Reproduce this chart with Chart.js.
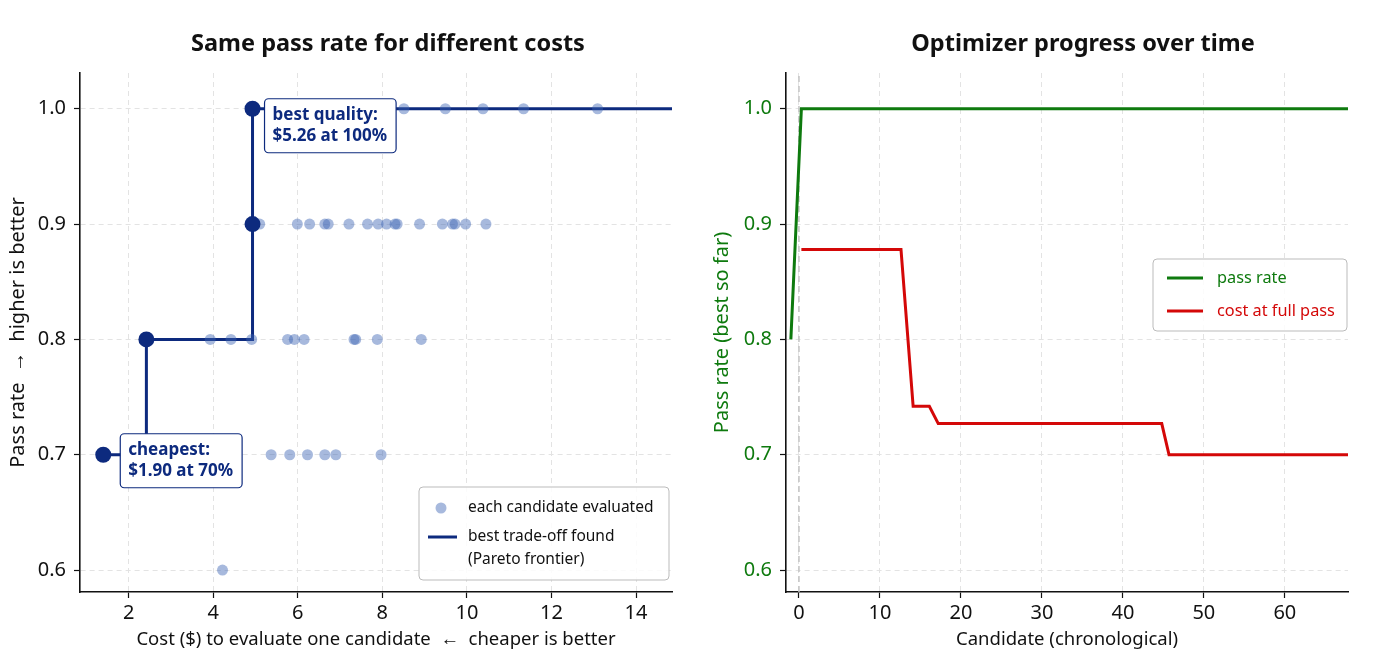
<!DOCTYPE html>
<html>
<head>
<meta charset="utf-8">
<script src="https://cdn.jsdelivr.net/npm/chart.js@4.4.1/dist/chart.umd.min.js"></script>
<style>
  body { margin: 0; background: #fff; }
  #wrap { position: relative; width: 1400px; height: 672px; overflow: hidden; }
  canvas { position: absolute; top: 0; }
  .ttl { position: absolute; top: 27px; width: 400px; text-align: center;
         font: bold 23.5px "Noto Sans"; line-height: 30px; color: #111; }
</style>
</head>
<body>
<div id="wrap">
  <canvas id="left" width="700" height="672" style="left:0"></canvas>
  <canvas id="right" width="700" height="672" style="left:700px"></canvas>
  <div class="ttl" style="left:188px">Same pass rate for different costs</div>
  <div class="ttl" style="left:883px">Optimizer progress over time</div>
</div>
<script>
// left: every candidate (cost, pass rate)
const candCost = [8.51, 9.49, 10.38, 11.34, 13.09,
  5.10, 5.99, 6.28, 6.64, 6.72, 7.21, 7.65, 7.90, 8.10, 8.30, 8.35, 8.88, 9.42, 9.66, 9.72, 9.97, 10.45,
  3.93, 4.42, 4.91, 5.76, 5.92, 6.15, 7.33, 7.37, 7.88, 8.92,
  5.37, 5.81, 6.23, 6.64, 6.90, 7.97,
  4.22];
const candPass = [1.0, 1.0, 1.0, 1.0, 1.0,
  0.9, 0.9, 0.9, 0.9, 0.9, 0.9, 0.9, 0.9, 0.9, 0.9, 0.9, 0.9, 0.9, 0.9, 0.9, 0.9, 0.9,
  0.8, 0.8, 0.8, 0.8, 0.8, 0.8, 0.8, 0.8, 0.8, 0.8,
  0.7, 0.7, 0.7, 0.7, 0.7, 0.7,
  0.6];

// pareto frontier
const frontCost = [1.40, 2.42, 4.93, 4.93];
const frontPass = [0.7, 0.8, 0.9, 1.0];
const cheapNote = ['cheapest:', '$1.90 at 70%'];
const bestNote = ['best quality:', '$5.26 at 100%'];

// right: best so far per candidate
const passX = [-1, 0.3, 67.8];
const passBest = [0.8, 1.0, 1.0];
const costX = [0.3, 12.6, 14.1, 16.1, 17.2, 44.8, 45.7, 67.8];
const costLevel = [0.878, 0.878, 0.742, 0.742, 0.727, 0.727, 0.700, 0.700];

const xTicksLeft = [2, 4, 6, 8, 10, 12, 14];
const xTicksRight = [0, 10, 20, 30, 40, 50, 60];
const yTicks = [0.6, 0.7, 0.8, 0.9, 1.0];

const FONT = '"Noto Sans"';
const NAVY = '#0d2a7e';
const GREEN = '#0e7a0e';
const RED = '#d40808';
const Y_MIN = 0.581, Y_MAX = 1.031;
const XL_MIN = 0.85, XL_MAX = 14.85;
const XR_MIN = -1.6, XR_MAX = 67.8;

const pts = (xs, ys) => xs.map((v, i) => ({ x: v, y: ys[i] }));

function axis(min, max, tickVals, fmt, title, color, size, titlePad) {
  const horiz = size === 80 && titlePad > 15;
  return {
    type: 'linear', min: min, max: max,
    afterBuildTicks: s => { s.ticks = tickVals.map(v => ({ value: v })); },
    afterFit: s => { if (s.isHorizontal()) s.height = size; else s.width = size; },
    ticks: { color: color, font: { family: FONT, size: 20 }, padding: horiz ? 3 : 8, callback: fmt },
    grid: { color: '#e3e3e3', lineWidth: 1, tickColor: '#111', tickLength: 6, tickWidth: 1.2 },
    border: { display: true, color: '#111', width: 1.6, dash: [5, 4] },
    title: { display: true, text: title, color: color, font: { family: FONT, size: horiz ? 18.5 : 20 },
      padding: horiz ? { top: 2, bottom: titlePad } : { top: titlePad, bottom: 2 } }
  };
}

function noteBox(ctx, left, top, lines) {
  ctx.font = 'bold 17px ' + FONT;
  const w = Math.max(...lines.map(t => ctx.measureText(t).width)) + 17;
  ctx.beginPath();
  ctx.roundRect(left, top, w, 54, 4);
  ctx.fillStyle = '#fff';
  ctx.fill();
  ctx.lineWidth = 1.2;
  ctx.strokeStyle = NAVY;
  ctx.stroke();
  ctx.fillStyle = NAVY;
  ctx.textAlign = 'left';
  ctx.textBaseline = 'middle';
  lines.forEach((t, i) => ctx.fillText(t, left + 8, top + 16 + i * 21));
}

function legendBox(ctx, left, top, w, h) {
  ctx.beginPath();
  ctx.roundRect(left, top, w, h, 4);
  ctx.fillStyle = 'rgba(255,255,255,0.85)';
  ctx.fill();
  ctx.lineWidth = 1;
  ctx.strokeStyle = '#bbb';
  ctx.stroke();
}

const leftNotes = {
  id: 'leftNotes',
  afterDatasetsDraw(chart) {
    const { ctx, chartArea: a, scales: { x, y } } = chart;
    ctx.save();
    const b = frontCost.length - 1;
    noteBox(ctx, x.getPixelForValue(frontCost[b]) + 12, y.getPixelForValue(frontPass[b]) - 10, bestNote);
    noteBox(ctx, x.getPixelForValue(frontCost[0]) + 17, y.getPixelForValue(frontPass[0]) - 21, cheapNote);

    const L = a.right - 253, T = a.bottom - 105;
    legendBox(ctx, L, T, 250, 93);
    ctx.beginPath();
    ctx.arc(L + 22, T + 21, 5.5, 0, Math.PI * 2);
    ctx.fillStyle = 'rgba(60,100,180,0.45)';
    ctx.fill();
    ctx.beginPath();
    ctx.moveTo(L + 9, T + 50);
    ctx.lineTo(L + 38, T + 50);
    ctx.lineWidth = 3;
    ctx.strokeStyle = NAVY;
    ctx.stroke();
    ctx.font = '15.5px ' + FONT;
    ctx.fillStyle = '#111';
    ctx.textAlign = 'left';
    ctx.textBaseline = 'middle';
    ctx.fillText('each candidate evaluated', L + 49, T + 21);
    ctx.fillText('best trade-off found', L + 49, T + 50);
    ctx.fillText('(Pareto frontier)', L + 49, T + 73);
    ctx.restore();
  }
};

const rightNotes = {
  id: 'rightNotes',
  afterDatasetsDraw(chart) {
    const { ctx, chartArea: a } = chart;
    ctx.save();
    const L = a.right - 195, T = a.top + 186;
    legendBox(ctx, L, T, 194, 72);
    [[GREEN, 'pass rate', 19], [RED, 'cost at full pass', 52]].forEach(([c, t, dy]) => {
      ctx.beginPath();
      ctx.moveTo(L + 14, T + dy);
      ctx.lineTo(L + 50, T + dy);
      ctx.lineWidth = 3;
      ctx.strokeStyle = c;
      ctx.stroke();
      ctx.font = '16.3px ' + FONT;
      ctx.fillStyle = c;
      ctx.textAlign = 'left';
      ctx.textBaseline = 'middle';
      ctx.fillText(t, L + 64, T + dy);
    });
    ctx.restore();
  }
};

const frontLine = pts(frontCost, frontPass);
frontLine.push({ x: XL_MAX, y: frontPass[frontPass.length - 1] });

new Chart(document.getElementById('left'), {
  type: 'scatter',
  data: {
    datasets: [
      { label: 'frontier', data: pts(frontCost, frontPass), pointRadius: 8, pointBackgroundColor: NAVY,
        pointBorderWidth: 0, order: 0 },
      { label: 'each candidate evaluated', data: pts(candCost, candPass), pointRadius: 5.5,
        pointBackgroundColor: 'rgba(60,100,180,0.45)', pointBorderWidth: 0, order: 1 },
      { type: 'line', label: 'best trade-off found', data: frontLine, stepped: 'before',
        borderColor: NAVY, borderWidth: 3, pointRadius: 0, fill: false, order: 2 }
    ]
  },
  options: {
    responsive: false, animation: false,
    layout: { padding: { top: 73, right: 28, left: 0, bottom: 0 } },
    plugins: { legend: { display: false }, tooltip: { enabled: false } },
    scales: {
      x: axis(XL_MIN, XL_MAX, xTicksLeft, v => String(v),
        'Cost ($) to evaluate one candidate  \u2190  cheaper is better', '#111', 80, 21),
      y: axis(Y_MIN, Y_MAX, yTicks, v => v.toFixed(1), 'Pass rate  \u2192  higher is better', '#111', 80, 6)
    }
  },
  plugins: [leftNotes]
});

new Chart(document.getElementById('right'), {
  type: 'scatter',
  data: {
    datasets: [
      { type: 'line', label: 'pass rate', data: pts(passX, passBest), borderColor: GREEN, borderWidth: 3,
        pointRadius: 0, fill: false, order: 0 },
      { type: 'line', label: 'cost at full pass', data: pts(costX, costLevel), borderColor: RED, borderWidth: 3,
        pointRadius: 0, fill: false, order: 1 },
      { type: 'line', label: 'start', data: [{ x: 0, y: Y_MIN }, { x: 0, y: Y_MAX }], borderColor: '#c4c4c4',
        borderDash: [6, 4], borderWidth: 1.5, pointRadius: 0, fill: false, order: 2 }
    ]
  },
  options: {
    responsive: false, animation: false,
    layout: { padding: { top: 73, right: 52, left: 0, bottom: 0 } },
    plugins: { legend: { display: false }, tooltip: { enabled: false } },
    scales: {
      x: axis(XR_MIN, XR_MAX, xTicksRight, v => String(v), 'Candidate (chronological)', '#111', 80, 21),
      y: axis(Y_MIN, Y_MAX, yTicks, v => v.toFixed(1), 'Pass rate (best so far)', GREEN, 86, 10)
    }
  },
  plugins: [rightNotes]
});
</script>
</body>
</html>
